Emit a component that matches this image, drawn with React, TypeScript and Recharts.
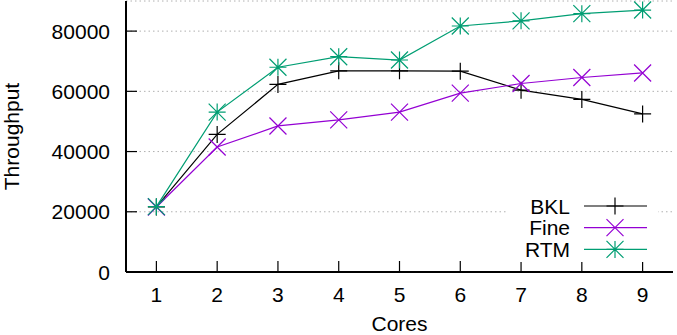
import React from 'react';
import { LineChart, Line, XAxis, YAxis, CartesianGrid, Legend, Label } from 'recharts';

// Values
const CORES = [1, 2, 3, 4, 5, 6, 7, 8, 9];
const BKL = [21600, 45700, 62300, 66800, 66800, 66700, 60400, 57300, 52500];
const FINE = [21600, 41500, 48500, 50500, 53100, 59400, 62600, 64600, 66100];
const RTM = [21700, 53100, 68000, 71500, 70400, 81700, 83400, 85800, 87000];
const Y_TICKS = [0, 20000, 40000, 60000, 80000];

const SERIES = [
  { key: 'BKL', name: 'BKL', color: '#000000', marker: 'plus' },
  { key: 'Fine', name: 'Fine', color: '#9400d3', marker: 'cross' },
  { key: 'RTM', name: 'RTM', color: '#009e73', marker: 'star' },
];

const data = CORES.map((c, i) => ({ cores: c, BKL: BKL[i], Fine: FINE[i], RTM: RTM[i] }));

const FONT = '"Liberation Sans", Arial, Helvetica, sans-serif';
const FS = 21;
const TICK_LEN = 11;

// gnuplot-like point types
function Marker({ cx, cy, color, type }: { cx: number; cy: number; color: string; type: string }) {
  const s = 8.5;
  const plus = `M${cx - s},${cy}H${cx + s}M${cx},${cy - s}V${cy + s}`;
  const cross = `M${cx - s},${cy - s}L${cx + s},${cy + s}M${cx - s},${cy + s}L${cx + s},${cy - s}`;
  let d = plus;
  if (type === 'cross') d = cross;
  if (type === 'star') d = plus + cross;
  return <path d={d} stroke={color} strokeWidth={1.2} fill="none" />;
}

function BottomTick(props: any) {
  const { x, y, payload } = props;
  return (
    <g>
      <line x1={x} x2={x} y1={y} y2={y - TICK_LEN} stroke="#000" strokeWidth={1.2} />
      <text x={x} y={y + 30} textAnchor="middle" fontFamily={FONT} fontSize={FS} fill="#000">
        {payload.value}
      </text>
    </g>
  );
}

function TopTick(props: any) {
  const { x, y } = props;
  return <line x1={x} x2={x} y1={y} y2={y + TICK_LEN} stroke="#000" strokeWidth={1.2} />;
}

function LeftTick(props: any) {
  const { x, y, payload } = props;
  return (
    <g>
      <line x1={x} x2={x + TICK_LEN} y1={y} y2={y} stroke="#000" strokeWidth={1.2} />
      <text x={x - 16} y={y + 7.5} textAnchor="end" fontFamily={FONT} fontSize={FS} fill="#000">
        {payload.value}
      </text>
    </g>
  );
}

function RightTick(props: any) {
  const { x, y } = props;
  return <line x1={x} x2={x - TICK_LEN} y1={y} y2={y} stroke="#000" strokeWidth={1.2} />;
}

function CoresLabel(props: any) {
  const vb = props.viewBox;
  return (
    <text x={vb.x + vb.width / 2} y={vb.y + vb.height - 4} textAnchor="middle" fontFamily={FONT} fontSize={FS} fill="#000">
      Cores
    </text>
  );
}

function KeyBox() {
  return (
    <svg width={150} height={68} style={{ display: 'block' }}>
      <rect x={0} y={0} width={150} height={68} fill="#fff" />
      {SERIES.map((s, i) => {
        const cy = 12 + i * 21.7;
        return (
          <g key={s.key}>
            <text x={62} y={cy + 7.5} textAnchor="end" fontFamily={FONT} fontSize={FS} fill="#000">
              {s.name}
            </text>
            <line x1={76} x2={139} y1={cy} y2={cy} stroke={s.color} strokeWidth={1.2} />
            <Marker cx={107} cy={cy} color={s.color} type={s.marker} />
          </g>
        );
      })}
    </svg>
  );
}

export default function App() {
  return (
    <div style={{ position: 'absolute', left: 0, top: 0, width: 677, height: 335, background: '#fff' }}>
      <LineChart width={677} height={335} data={data} margin={{ top: 1, right: 4, left: 0, bottom: 0 }}>
        <CartesianGrid vertical={false} stroke="#b0b0b0" strokeDasharray="1.5 3" xAxisId="x" yAxisId="y" />
        <XAxis
          xAxisId="x"
          dataKey="cores"
          type="number"
          domain={[0.5, 9.5]}
          ticks={CORES}
          height={63}
          tickSize={0}
          tickMargin={0}
          tickLine={false}
          tick={<BottomTick />}
          axisLine={{ stroke: '#000', strokeWidth: 2 }}
        >
          <Label content={<CoresLabel />} />
        </XAxis>
        <XAxis
          xAxisId="top"
          orientation="top"
          dataKey="cores"
          type="number"
          domain={[0.5, 9.5]}
          ticks={CORES}
          height={0}
          tickSize={0}
          tickMargin={0}
          tickLine={false}
          tick={<TopTick />}
          axisLine={{ stroke: '#000', strokeWidth: 2 }}
        />
        <YAxis
          yAxisId="y"
          domain={[0, 90000]}
          ticks={Y_TICKS}
          width={126}
          tickSize={0}
          tickMargin={0}
          tickLine={false}
          tick={<LeftTick />}
          axisLine={{ stroke: '#000', strokeWidth: 2 }}
          label={{
            value: 'Throughput',
            angle: -90,
            position: 'insideLeft',
            offset: 12,
            style: { textAnchor: 'middle' },
            fontFamily: FONT,
            fontSize: FS,
            fill: '#000',
          }}
        />
        <YAxis
          yAxisId="right"
          orientation="right"
          domain={[0, 90000]}
          ticks={Y_TICKS}
          width={0}
          tickSize={0}
          tickMargin={0}
          tickLine={false}
          tick={<RightTick />}
          axisLine={{ stroke: '#000', strokeWidth: 2 }}
        />
        {SERIES.map((s) => (
          <Line
            key={s.key}
            xAxisId="x"
            yAxisId="y"
            dataKey={s.key}
            name={s.name}
            stroke={s.color}
            strokeWidth={1.2}
            isAnimationActive={false}
            dot={(p: any) => <Marker key={`${s.key}-${p.index}`} cx={p.cx} cy={p.cy} color={s.color} type={s.marker} />}
            activeDot={false}
          />
        ))}
        <Legend
          layout="horizontal"
          verticalAlign="middle"
          align="center"
          content={() => <KeyBox />}
          wrapperStyle={{ left: 508, top: 194, width: 150, height: 68 }}
        />
      </LineChart>
    </div>
  );
}
